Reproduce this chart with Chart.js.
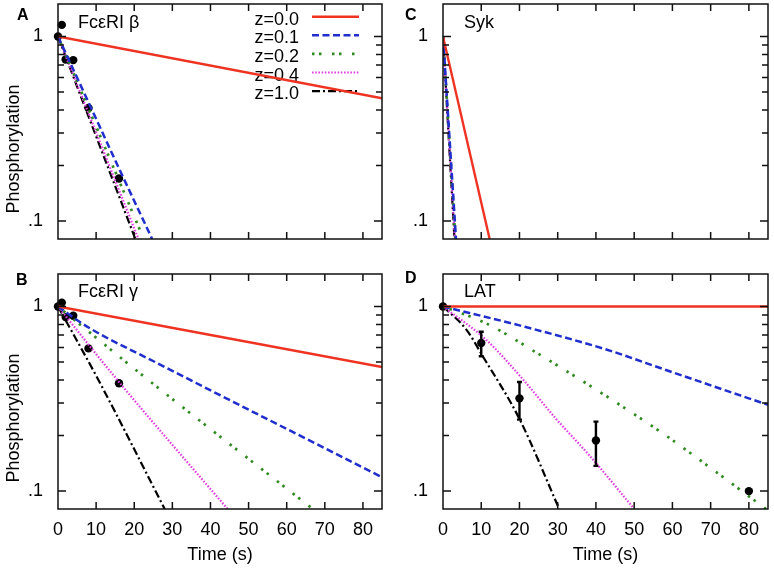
<!DOCTYPE html>
<html><head><meta charset="utf-8">
<script src="https://cdn.jsdelivr.net/npm/chart.js@4"></script>
<style>
body{margin:0;background:#fff}
#wrap{position:relative;width:774px;height:570px;background:#fff;overflow:hidden}
canvas{position:absolute}
</style></head><body>
<div id="wrap">
<canvas id="cA" width="390" height="262" style="left:0;top:0"></canvas>
<canvas id="cC" width="384" height="262" style="left:390px;top:0"></canvas>
<canvas id="cB" width="390" height="308" style="left:0;top:262px"></canvas>
<canvas id="cD" width="384" height="308" style="left:390px;top:262px"></canvas>
</div>
<script>
// ---------- shared labels / ticks ----------
const seriesLabels = ['z=0.0', 'z=0.1', 'z=0.2', 'z=0.4', 'z=1.0'];
const xTickValues = [0, 10, 20, 30, 40, 50, 60, 70, 80];
const yTickValues = [0.1, 1];
const yTickLabels = ['.1', '1'];
const yMinorTicks = [0.2, 0.3, 0.4, 0.5, 0.6, 0.7, 0.8, 0.9];

// ---------- Panel A : FcεRI β ----------
const aDataT = [0, 1, 2, 4, 8, 16];
const aDataY = [1.0, 1.156, 0.75, 0.745, 0.41, 0.17];
const aZ00T = [0, 85];          const aZ00Y = [1, 0.463];
const aZ01T = [0, 8, 16, 24.7]; const aZ01Y = [1, 0.44, 0.193, 0.08];
const aZ02T = [0, 22.5];        const aZ02Y = [1, 0.08];
const aZ04T = [0, 21.1];        const aZ04Y = [1, 0.08];
const aZ10T = [0, 20.3];        const aZ10Y = [1, 0.08];

// ---------- Panel B : FcεRI γ ----------
const bDataT = [0, 1, 2, 4, 8, 16];
const bDataY = [1.0, 1.05, 0.876, 0.891, 0.593, 0.384];
const bZ00T = [0, 85];             const bZ00Y = [1, 0.47];
const bZ01T = [0, 8, 25.5, 85];    const bZ01Y = [1, 0.77, 0.5, 0.119];
const bZ02T = [0, 22.4, 66.5];     const bZ02Y = [1, 0.42, 0.081];
const bZ04T = [0, 16, 44.5];       const bZ04Y = [1, 0.39, 0.08];
const bZ10T = [0, 10.6, 28];       const bZ10Y = [1, 0.40, 0.08];

// ---------- Panel C : Syk ----------
const cZ00T = [0, 12.2]; const cZ00Y = [1, 0.08];
const cZ01T = [0, 3.4];  const cZ01Y = [1, 0.08];
const cZ02T = [0, 3.25]; const cZ02Y = [1, 0.08];
const cZ04T = [0, 3.1];  const cZ04Y = [1, 0.08];
const cZ10T = [0, 3.0];  const cZ10Y = [1, 0.08];

// ---------- Panel D : LAT ----------
const dDataT = [0, 10, 20, 40, 80];
const dDataY = [1.0, 0.635, 0.318, 0.188, 0.1];
const dErrLow = [null, 0.538, 0.244, 0.137, null];
const dErrHigh = [null, 0.73, 0.39, 0.238, null];
const dZ00T = [0, 85];                         const dZ00Y = [1, 1];
const dZ01T = [0, 20, 42.7, 58.3, 85];         const dZ01Y = [1, 0.79, 0.585, 0.453, 0.293];
const dZ02T = [0, 11.3, 25.2, 43.3, 58.3, 71.4, 84.5]; const dZ02Y = [1, 0.81, 0.55, 0.321, 0.2, 0.127, 0.08];
const dZ04T = [0, 11.3, 20.9, 29.6, 38.3, 49.6]; const dZ04Y = [1, 0.66, 0.403, 0.246, 0.156, 0.082];
const dZ10T = [0, 6.1, 10.4, 20, 30.4];        const dZ10Y = [1, 0.75, 0.538, 0.246, 0.08];

// ---------- styles ----------
const lineStyles = [
  {color: '#ee3322', dash: [], width: 2.4},
  {color: '#1f2ecc', dash: [7, 3.5], width: 2.5},
  {color: '#2f8a1f', dash: [2.5, 4.5, 2.5, 10.5], width: 2.7},
  {color: '#e040e0', dash: [1.6, 1.6], width: 2.2},
  {color: '#000000', dash: [8, 3, 2, 3], width: 2.2}
];

Chart.defaults.font.family = "'Liberation Sans', Arial, sans-serif";
Chart.defaults.font.size = 18;
Chart.defaults.color = '#000';

const pts = (t, y) => t.map((v, i) => ({x: v, y: y[i]}));

function drawText(ctx, txt, x, y, font, align) {
  ctx.save();
  ctx.font = font; ctx.fillStyle = '#000';
  ctx.textAlign = align || 'left'; ctx.textBaseline = 'alphabetic';
  ctx.fillText(txt, x, y);
  ctx.restore();
}

const framePlugin = {
  id: 'frame',
  beforeDatasetsDraw(chart) {
    const o = chart.options.plugins.frame;
    if (!o.legend) return;
    const ctx = chart.ctx;
    const n = chart.data.datasets.filter(d => d.isModel).length;
    for (let i = 0; i < n; i++) {
      const ds = chart.data.datasets[i];
      const y = o.legend.y0 + i * o.legend.dy;
      drawText(ctx, ds.label, o.legend.textRight, y + 8, "18px 'Liberation Sans', Arial, sans-serif", 'right');
      ctx.save();
      ctx.strokeStyle = ds.borderColor; ctx.lineWidth = ds.borderWidth;
      ctx.setLineDash(ds.borderDash || []);
      ctx.beginPath(); ctx.moveTo(o.legend.x1, y); ctx.lineTo(o.legend.x2, y); ctx.stroke();
      ctx.restore();
    }
  },
  afterDatasetsDraw(chart) {
    const o = chart.options.plugins.frame;
    const ctx = chart.ctx;
    const xs = chart.scales.x, ys = chart.scales.y;
    if (o.errLow) {
      ctx.save();
      ctx.strokeStyle = '#000'; ctx.lineWidth = 2.4; ctx.setLineDash([]);
      o.errT.forEach((t, i) => {
        if (o.errLow[i] == null) return;
        const px = xs.getPixelForValue(t);
        const p1 = ys.getPixelForValue(o.errLow[i]);
        const p2 = ys.getPixelForValue(o.errHigh[i]);
        ctx.beginPath();
        ctx.moveTo(px, p1); ctx.lineTo(px, p2);
        ctx.moveTo(px - 2.5, p1); ctx.lineTo(px + 2.5, p1);
        ctx.moveTo(px - 2.5, p2); ctx.lineTo(px + 2.5, p2);
        ctx.stroke();
      });
      ctx.restore();
    }
  },
  afterDraw(chart) {
    const o = chart.options.plugins.frame;
    const ctx = chart.ctx;
    const a = chart.chartArea;
    const xs = chart.scales.x, ys = chart.scales.y;
    ctx.save();
    ctx.strokeStyle = '#111'; ctx.lineWidth = 1.5; ctx.setLineDash([]);
    ctx.strokeRect(a.left, a.top, a.right - a.left, a.bottom - a.top);
    ctx.beginPath();
    xTickValues.forEach(v => {
      if (v <= xs.min) return;
      const px = xs.getPixelForValue(v);
      ctx.moveTo(px, a.bottom); ctx.lineTo(px, a.bottom - 7);
      ctx.moveTo(px, a.top); ctx.lineTo(px, a.top + 7);
    });
    yTickValues.forEach(v => {
      const py = ys.getPixelForValue(v);
      ctx.moveTo(a.left, py); ctx.lineTo(a.left + 8, py);
      ctx.moveTo(a.right, py); ctx.lineTo(a.right - 8, py);
    });
    yMinorTicks.forEach(v => {
      const py = ys.getPixelForValue(v);
      ctx.moveTo(a.left, py); ctx.lineTo(a.left + 6, py);
      ctx.moveTo(a.right, py); ctx.lineTo(a.right - 6, py);
    });
    ctx.stroke();
    ctx.restore();
    drawText(ctx, o.letter, o.letterX, o.letterY, "bold 16px 'Liberation Sans', Arial, sans-serif");
    drawText(ctx, o.name, a.left + o.nameDX, a.top + o.nameDY, "18px 'Liberation Sans', Arial, sans-serif");
    if (o.yTitle) {
      ctx.save();
      ctx.translate(o.yTitleX, o.yTitleY);
      ctx.rotate(-Math.PI / 2);
      ctx.font = "18px 'Liberation Sans', Arial, sans-serif";
      ctx.fillStyle = '#000'; ctx.textAlign = 'center'; ctx.textBaseline = 'alphabetic';
      ctx.fillText(o.yTitle, 0, 0);
      ctx.restore();
    }
  }
};

function makePanel(id, p) {
  const datasets = p.lines.map((l, i) => ({
    label: seriesLabels[i],
    isModel: true,
    data: pts(l[0], l[1]),
    borderColor: lineStyles[i].color,
    borderWidth: lineStyles[i].width,
    borderDash: lineStyles[i].dash,
    borderCapStyle: 'butt',
    cubicInterpolationMode: 'monotone',
    pointRadius: 0,
    fill: false
  }));
  if (p.dataT) {
    datasets.push({
      label: 'data',
      data: pts(p.dataT, p.dataY),
      showLine: false,
      pointRadius: 4.2,
      pointHoverRadius: 4.2,
      backgroundColor: '#000',
      borderColor: '#000',
      borderWidth: 0,
      clip: false
    });
  }
  return new Chart(document.getElementById(id), {
    type: 'line',
    data: {datasets},
    plugins: [framePlugin],
    options: {
      responsive: false,
      animation: false,
      events: [],
      layout: {autoPadding: false, padding: {left: 0, top: p.padTop, right: p.padRight, bottom: 0}},
      plugins: {
        legend: {display: false},
        tooltip: {enabled: false},
        frame: p.frame
      },
      scales: {
        x: {
          type: 'linear', min: 0, max: 85,
          afterBuildTicks: s => { s.ticks = xTickValues.map(v => ({value: v})); },
          ticks: {display: p.showX, padding: 10, maxRotation: 0, autoSkip: false, color: '#000',
                  callback: v => String(v)},
          title: {display: p.showX, text: 'Time (s)', padding: {top: 0, bottom: 4}, color: '#000'},
          grid: {display: false, drawTicks: false},
          border: {display: false},
          afterFit: s => { s.height = p.xHeight; s.paddingLeft = 0; s.paddingRight = 0; }
        },
        y: {
          type: 'logarithmic', min: 0.08, max: 1.5,
          afterBuildTicks: s => { s.ticks = yTickValues.map(v => ({value: v})); },
          ticks: {padding: 15, color: '#000',
                  callback: v => { const k = yTickValues.indexOf(v); return k >= 0 ? yTickLabels[k] : ''; }},
          grid: {display: false, drawTicks: false},
          border: {display: false},
          afterFit: s => { s.width = p.yWidth; s.paddingTop = 0; s.paddingBottom = 0; }
        }
      }
    }
  });
}

makePanel('cA', {
  lines: [[aZ00T, aZ00Y], [aZ01T, aZ01Y], [aZ02T, aZ02Y], [aZ04T, aZ04Y], [aZ10T, aZ10Y]],
  dataT: aDataT, dataY: aDataY,
  padTop: 4, padRight: 8, xHeight: 23, yWidth: 58, showX: false,
  frame: {letter: 'A', letterX: 17, letterY: 19.5, name: 'FcεRI β', nameDX: 20, nameDY: 24,
          yTitle: 'Phosphorylation', yTitleX: 18.5, yTitleY: 149,
          legend: {textRight: 299, x1: 312, x2: 359, y0: 16.7, dy: 18.6}}
});
makePanel('cC', {
  lines: [[cZ00T, cZ00Y], [cZ01T, cZ01Y], [cZ02T, cZ02Y], [cZ04T, cZ04Y], [cZ10T, cZ10Y]],
  padTop: 4, padRight: 6, xHeight: 23, yWidth: 53, showX: false,
  frame: {letter: 'C', letterX: 15, letterY: 20, name: 'Syk', nameDX: 21, nameDY: 24}
});
makePanel('cB', {
  lines: [[bZ00T, bZ00Y], [bZ01T, bZ01Y], [bZ02T, bZ02Y], [bZ04T, bZ04Y], [bZ10T, bZ10Y]],
  dataT: bDataT, dataY: bDataY,
  padTop: 12, padRight: 8, xHeight: 61, yWidth: 58, showX: true,
  frame: {letter: 'B', letterX: 16, letterY: 23, name: 'FcεRI γ', nameDX: 20, nameDY: 23,
          yTitle: 'Phosphorylation', yTitleX: 18.5, yTitleY: 156}
});
makePanel('cD', {
  lines: [[dZ00T, dZ00Y], [dZ01T, dZ01Y], [dZ02T, dZ02Y], [dZ04T, dZ04Y], [dZ10T, dZ10Y]],
  dataT: dDataT, dataY: dDataY,
  padTop: 12, padRight: 6, xHeight: 61, yWidth: 53, showX: true,
  frame: {letter: 'D', letterX: 15, letterY: 21, name: 'LAT', nameDX: 21, nameDY: 23,
          errT: dDataT, errLow: dErrLow, errHigh: dErrHigh}
});
</script>
</body></html>
